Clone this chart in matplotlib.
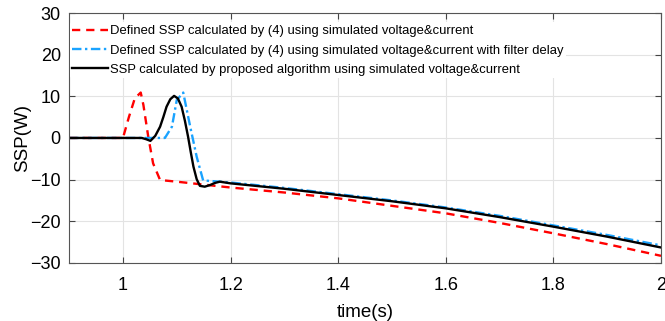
import matplotlib.pyplot as plt

plt.rcParams['font.family'] = ['Liberation Sans', 'DejaVu Sans']

# red: defined SSP by (4)
t_red = [0.9, 1.0, 1.011, 1.022, 1.033, 1.038, 1.047, 1.056, 1.069, 1.1, 1.2,
         1.3, 1.4, 1.5, 1.6, 1.7, 1.8, 1.9, 2.0]
ssp_red = [0, 0, 5.0, 9.5, 10.9, 7.9, 0.3, -6.1, -10.1, -10.5, -11.9,
           -13.1, -14.5, -16.3, -18.1, -20.4, -22.9, -25.5, -28.3]

# blue: with filter delay
t_blue = [0.9, 1.078, 1.091, 1.1, 1.112, 1.125, 1.137, 1.149, 1.17, 1.2,
          1.3, 1.4, 1.5, 1.6, 1.7, 1.8, 1.9, 2.0]
ssp_blue = [0, 0, 2.7, 9.1, 10.9, 2.7, -4.5, -10.2, -10.4, -10.7,
            -12.0, -13.5, -15.0, -16.7, -18.7, -21.0, -23.3, -25.8]

# black: proposed algorithm
t_blk = [0.9, 1.035, 1.043, 1.051, 1.06, 1.069, 1.075, 1.081, 1.088, 1.095,
         1.102, 1.109, 1.115, 1.121, 1.126, 1.131, 1.137, 1.143, 1.152, 1.162,
         1.171, 1.18, 1.2, 1.3, 1.4, 1.5, 1.6, 1.7, 1.8, 1.9, 2.0]
ssp_blk = [0, 0, -0.3, -0.7, 0.5, 2.7, 5.0, 7.5, 9.3, 10.1,
           9.5, 7.5, 4.2, 0.3, -3.4, -6.9, -9.9, -11.5, -11.7, -11.3,
           -10.8, -10.5, -10.9, -12.2, -13.7, -15.2, -16.9, -19.0, -21.3, -23.7, -26.3]

labels = ['Defined SSP calculated by (4) using simulated voltage&current',
          'Defined SSP calculated by (4) using simulated voltage&current with filter delay',
          'SSP calculated by proposed algorithm using simulated voltage&current']

xticks = [1, 1.2, 1.4, 1.6, 1.8, 2]
xticklabels = ['1', '1.2', '1.4', '1.6', '1.8', '2']
yticks = [-30, -20, -10, 0, 10, 20, 30]

fig = plt.figure(figsize=(6.65, 3.21), dpi=100)
ax = fig.add_axes([0.104, 0.181, 0.89, 0.7785])

ax.plot(t_red, ssp_red, color='#ff0000', lw=1.7, ls=(0, (3.5, 2.5)), label=labels[0])
ax.plot(t_blue, ssp_blue, color='#1aa3ff', lw=1.7, ls=(0, (4, 1.5, 1, 1.5)), label=labels[1])
ax.plot(t_blk, ssp_blk, color='black', lw=1.7, label=labels[2])

ax.set_xlim(0.9, 2)
ax.set_ylim(-30, 30)
ax.set_xticks(xticks)
ax.set_xticklabels(xticklabels)
ax.set_yticks(yticks)
ax.grid(True, color='#e3e3e3', lw=0.8)
ax.set_axisbelow(True)
ax.tick_params(direction='in', length=4, width=0.8, color='#444444',
               top=True, right=True, labelsize=13)
ax.tick_params(axis='x', pad=10)
ax.tick_params(axis='y', pad=6)
for s in ax.spines.values():
    s.set_color('#555555')
    s.set_linewidth(0.8)

ax.set_xlabel('time(s)', fontsize=13.5, labelpad=7)
ax.set_ylabel('SSP(W)', fontsize=13.5, labelpad=-1)

leg = ax.legend(loc='upper left', bbox_to_anchor=(0.001, 0.962), fontsize=9.4,
                frameon=True, handlelength=2.75, handletextpad=0.15,
                labelspacing=0.55, borderpad=0.2, borderaxespad=0.0)
leg.get_frame().set_edgecolor('none')
leg.get_frame().set_facecolor('white')
leg.get_frame().set_alpha(1)

fig.savefig('out.png', dpi=100)
